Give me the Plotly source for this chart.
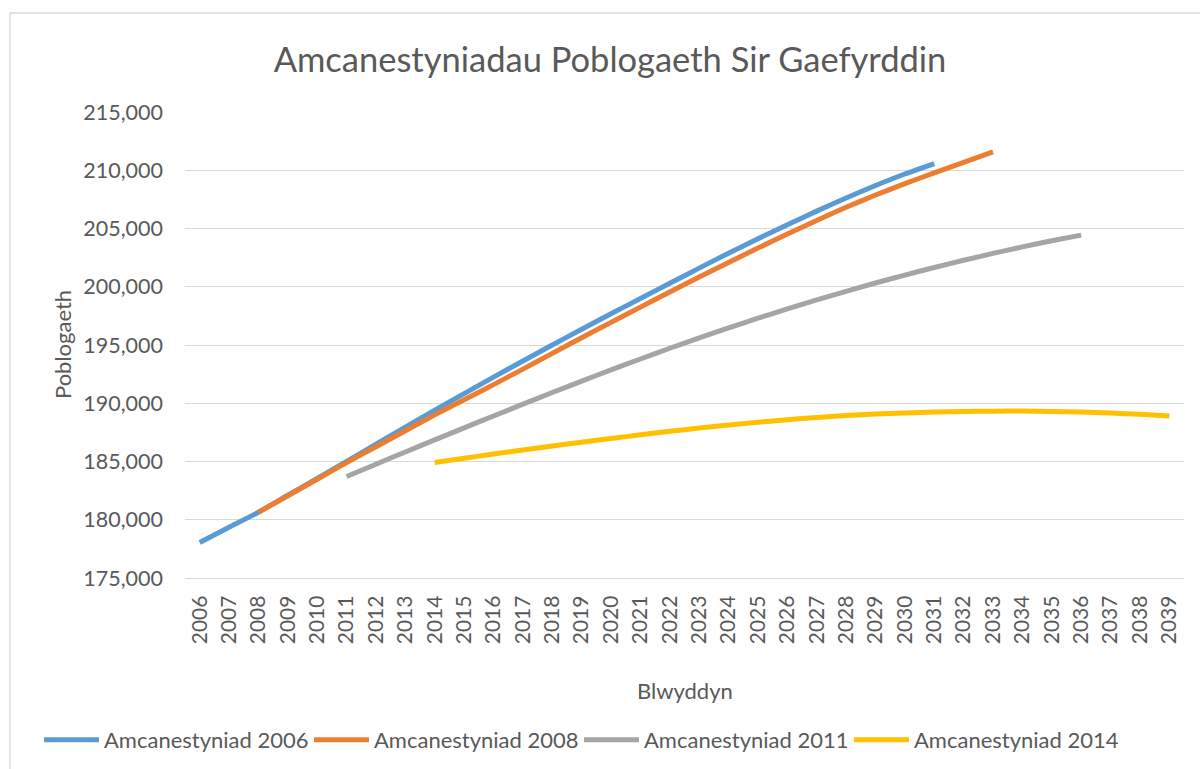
import plotly.graph_objects as go

years_2006 = list(range(2006, 2032))
pop_2006 = [178050, 179350, 180650, 182100, 183550, 185000, 186480, 187950, 189400,
            190830, 192240, 193630, 195000, 196350, 197680, 198990, 200300, 201600,
            202880, 204120, 205320, 206490, 207620, 208690, 209680, 210570]

years_2008 = list(range(2008, 2034))
pop_2008 = [180650, 182060, 183480, 184900, 186270, 187640, 189000, 190300, 191600,
            192930, 194280, 195620, 196940, 198250, 199550, 200830, 202090, 203320,
            204520, 205690, 206820, 207870, 208850, 209770, 210670, 211570]

years_2011 = list(range(2011, 2037))
pop_2011 = [183710, 184770, 185820, 186860, 187890, 188910, 189920, 190920, 191900,
            192860, 193800, 194720, 195610, 196470, 197300, 198100, 198870, 199610,
            200320, 201000, 201650, 202270, 202860, 203420, 203950, 204430]

years_2014 = list(range(2014, 2040))
pop_2014 = [184910, 185280, 185640, 185990, 186330, 186660, 186980, 187290, 187590,
            187870, 188130, 188370, 188590, 188780, 188940, 189070, 189170, 189240,
            189290, 189320, 189330, 189300, 189240, 189160, 189050, 188910]

series = [
    ("Amcanestyniad 2006", years_2006, pop_2006, "#5B9BD5"),
    ("Amcanestyniad 2008", years_2008, pop_2008, "#ED7D31"),
    ("Amcanestyniad 2011", years_2011, pop_2011, "#A5A5A5"),
    ("Amcanestyniad 2014", years_2014, pop_2014, "#FFC000"),
]

all_years = list(range(2006, 2040))
y_ticks = [175000, 180000, 185000, 190000, 195000, 200000, 205000, 210000, 215000]

FONT = "Lato"
GREY = "#595959"

fig = go.Figure()
for name, xs, ys, col in series:
    fig.add_trace(go.Scatter(
        x=xs, y=ys, name=name, mode="lines",
        line=dict(color=col, width=5, shape="spline", smoothing=0.6),
    ))

W, H = 1200, 769
L, R, T, B = 185, 16, 112, 191
pw, ph = W - L - R, H - T - B

def px_x(x):
    return (x - L) / pw

def px_y(y):
    return (H - B - y) / ph

fig.update_layout(
    width=W, height=H,
    margin=dict(l=L, r=R, t=T, b=B, autoexpand=False),
    paper_bgcolor="white", plot_bgcolor="white",
    font=dict(family=FONT, color=GREY),
    title=dict(text="Amcanestyniadau Poblogaeth Sir Gaefyrddin",
               x=610 / W, xanchor="center", y=1 - 60 / H, yanchor="middle",
               font=dict(size=34.5, color=GREY, family=FONT)),
    showlegend=True,
    legend=dict(orientation="h", x=px_x(39), xanchor="left",
                y=px_y(740), yanchor="middle",
                font=dict(size=22, color=GREY, family=FONT),
                itemwidth=55,
                entrywidth=200, entrywidthmode="pixels",
                bgcolor="rgba(0,0,0,0)"),
    xaxis=dict(
        range=[2005.5, 2039.5], tickmode="array", tickvals=all_years,
        ticktext=[str(v) for v in all_years], tickangle=-90,
        tickfont=dict(size=21, color=GREY, family=FONT),
        showgrid=False, showline=True, linecolor="#D9D9D9", linewidth=1.3,
        ticks="", ticklabelstandoff=8, zeroline=False,
    ),
    yaxis=dict(
        range=[175000, 215000], tickmode="array", tickvals=y_ticks,
        tickformat=",d", tickfont=dict(size=21.5, color=GREY, family=FONT),
        showgrid=True, gridcolor="#D9D9D9", gridwidth=1.3,
        showline=False, ticks="", ticklabelstandoff=21, zeroline=False,
    ),
    annotations=[
        dict(text="Poblogaeth", xref="paper", yref="paper",
             x=px_x(62), y=0.5, xanchor="center", yanchor="middle",
             textangle=-90, showarrow=False,
             font=dict(size=22, color=GREY, family=FONT)),
        dict(text="Blwyddyn", xref="paper", yref="paper",
             x=0.5, y=px_y(690), xanchor="center", yanchor="middle",
             showarrow=False, font=dict(size=22, color=GREY, family=FONT)),
    ],
    shapes=[
        dict(type="rect", xref="paper", yref="paper",
             x0=px_x(10), x1=px_x(1215), y0=px_y(800), y1=px_y(13),
             line=dict(color="#D9D9D9", width=1.3), fillcolor="rgba(0,0,0,0)",
             layer="below"),
    ],
)

fig.write_html("out.html",
               config={"displayModeBar": False},
               post_script="document.body.style.margin='0';document.body.style.overflow='hidden';")
